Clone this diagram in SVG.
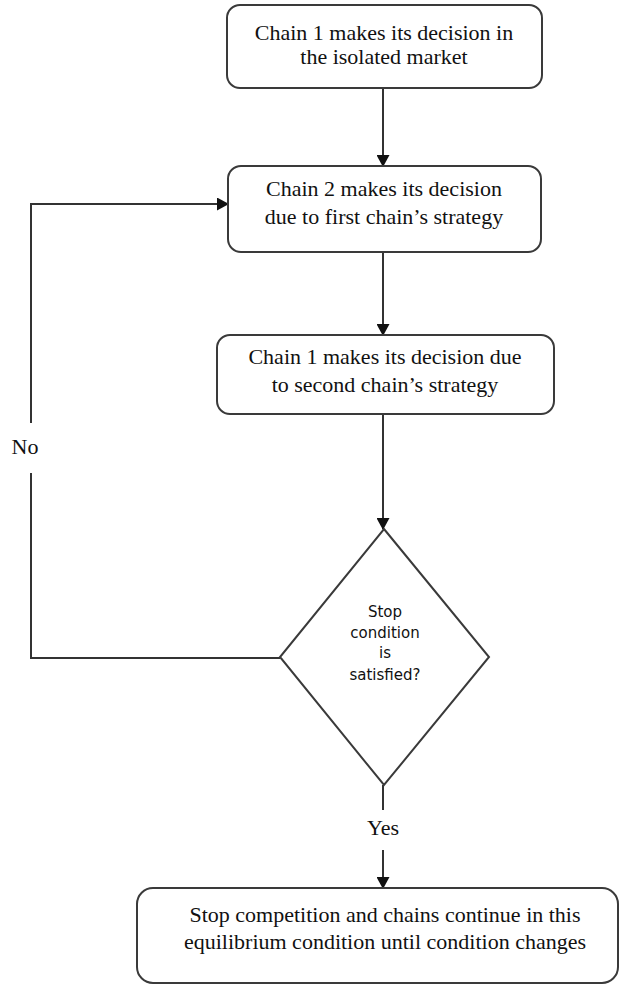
<svg xmlns="http://www.w3.org/2000/svg" width="622" height="986" viewBox="0 0 622 986">
<style>
.box{fill:#fff;stroke:#3a3a3a;stroke-width:2}
.t{font-family:"Liberation Serif","Times New Roman",serif;font-size:22px;fill:#111;text-anchor:middle}
.d{font-family:"DejaVu Sans",Verdana,sans-serif;font-size:15px;fill:#111;text-anchor:middle}
.ln{fill:none;stroke:#333;stroke-width:2}
</style>
<defs>
<marker id="ah" markerWidth="12" markerHeight="13" refX="11" refY="6.5" orient="auto" markerUnits="userSpaceOnUse">
<path d="M0,0 L12,6.5 L0,13 Z" fill="#111"/>
</marker>
</defs>
<rect width="622" height="986" fill="#fff"/>
<g id="connectors">
<line class="ln" x1="383" y1="88" x2="383" y2="166" marker-end="url(#ah)"/>
<line class="ln" x1="383" y1="252" x2="383" y2="335" marker-end="url(#ah)"/>
<line class="ln" x1="383" y1="414" x2="383" y2="529" marker-end="url(#ah)"/>
<line class="ln" x1="383" y1="785" x2="383" y2="810"/>
<line class="ln" x1="383" y1="850" x2="383" y2="888" marker-end="url(#ah)"/>
<polyline class="ln" points="280,658 31,658 31,473"/>
<polyline class="ln" points="31,423 31,204 228,204" marker-end="url(#ah)"/>
<text class="t" x="383" y="835">Yes</text>
<text class="t" x="25" y="454">No</text>
</g>
<g id="n1">
<rect class="box" x="227" y="5" width="315" height="83" rx="13"/>
<text class="t" x="384" y="40">Chain 1 makes its decision in</text>
<text class="t" x="384" y="64">the isolated market</text>
</g>
<g id="n2">
<rect class="box" x="228" y="166" width="313" height="86" rx="13"/>
<text class="t" x="384" y="196">Chain 2 makes its decision</text>
<text class="t" x="384" y="224">due to first chain’s strategy</text>
</g>
<g id="n3">
<rect class="box" x="217" y="335" width="337" height="79" rx="13"/>
<text class="t" x="385" y="364">Chain 1 makes its decision due</text>
<text class="t" x="385" y="392">to second chain’s strategy</text>
</g>
<g id="n4">
<polygon class="box" points="384,529 489,657 384,785 280,657"/>
<text class="d" x="385" y="617">Stop</text>
<text class="d" x="385" y="638">condition</text>
<text class="d" x="385" y="658">is</text>
<text class="d" x="385" y="680">satisfied?</text>
</g>
<g id="n5">
<rect class="box" x="137" y="888" width="481" height="95" rx="16"/>
<text class="t" x="385" y="922">Stop competition and chains continue in this</text>
<text class="t" x="385" y="949">equilibrium condition until condition changes</text>
</g>
</svg>
